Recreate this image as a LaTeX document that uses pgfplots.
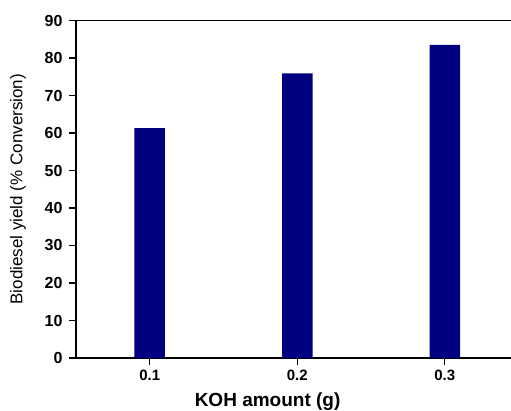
\documentclass[border=0pt]{standalone}
\usepackage{fontspec}
\setmainfont{Liberation Sans}
\usepackage{pgfplots}
\pgfplotsset{compat=1.18}
\definecolor{barblue}{RGB}{0,0,128}
\begin{document}
\begin{tikzpicture}
\useasboundingbox (-76pt,-52pt) rectangle (435pt,358pt);
\clip (-76pt,-52pt) rectangle (435pt,358pt);
\begin{axis}[
    at={(0,0)}, anchor=south west,
    scale only axis,
    width=442.5pt, height=337.5pt,
    xmin=0.05, xmax=0.35, ymin=0, ymax=90,
    ybar, bar width=30.5pt,
    xtick={0.1,0.2,0.3},
    xticklabels={0.1,0.2,0.3},
    ytick={0,10,...,90},
    tick align=outside,
    xtick pos=bottom, ytick pos=left,
    major tick length=7pt,
    axis line style={line width=1.2pt},
    tick style={line width=1.2pt, black},
    /pgf/number format/assume math mode=true,
    yticklabel style={font=\fontsize{16}{18}\selectfont\bfseries, xshift=-3pt},
    xticklabel style={font=\fontsize{15}{17}\selectfont\bfseries, yshift=-1pt},
    xlabel={KOH amount (g)},
    ylabel={Biodiesel yield (\% Conversion)},
    xlabel style={font=\fontsize{19}{22}\selectfont\bfseries,
        at={(axis description cs:0.433,-0.145)}, anchor=base},
    ylabel style={font=\fontsize{17}{20}\selectfont,
        at={(axis description cs:-0.131,0.5)}, anchor=center},
]
\addplot[fill=barblue, draw=none] coordinates {(0.1,61.3) (0.2,75.9) (0.3,83.5)};
\end{axis}
\end{tikzpicture}
\end{document}
